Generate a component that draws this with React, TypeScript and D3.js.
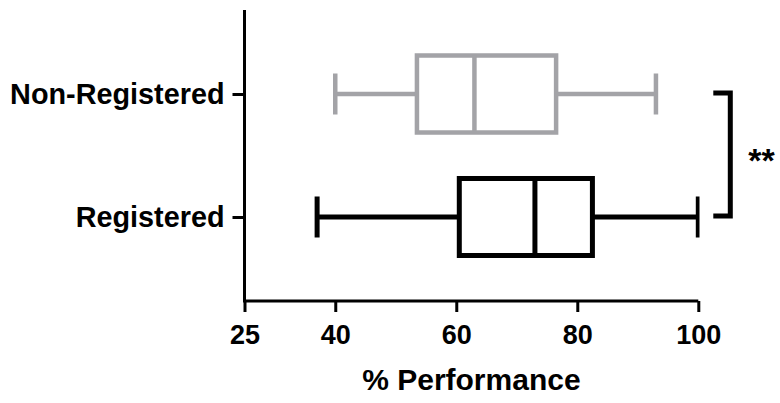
import { useEffect, useRef } from 'react';
import * as d3 from 'd3';

// groups, top to bottom
const groups = ['Non-Registered', 'Registered'];
const colors = ['#a3a3a7', '#000000'];
const lowWhisker = [40, 37];
const q1 = [53.5, 60.5];
const median = [63, 73];
const q3 = [76.5, 82.5];
const highWhisker = [93, 100];
const strokes = [4.5, 5];

const xTicks = [25, 40, 60, 80, 100];
const xTitle = '% Performance';
const sigLabel = '**';

const W = 780;
const H = 403;

export default function App() {
  const svgRef = useRef<SVGSVGElement>(null);

  useEffect(() => {
    if (!svgRef.current) return;
    const svg = d3.select(svgRef.current);
    svg.selectAll('*').remove();

    const font = '"Liberation Sans", Arial, sans-serif';
    const left = 244.5;
    const right = 698.3;
    const top = 10;
    const bottom = 301;

    const x = d3.scaleLinear().domain([25, 100]).range([left, right]);
    const y = d3.scalePoint<string>().domain(groups).range([top, bottom]).padding(0.683);
    const boxH = 77;
    const capH = 41;

    // clip so the last whisker cap is cut at 100 like the original
    svg.append('defs').append('clipPath').attr('id', 'plotclip')
      .append('rect')
      .attr('x', left).attr('y', 0)
      .attr('width', right - left + 1.2).attr('height', H);

    const plot = svg.append('g').attr('clip-path', 'url(#plotclip)');

    groups.forEach((g, i) => {
      const cy = y(g)!;
      const c = colors[i];
      const sw = strokes[i];
      const gg = plot.append('g')
        .attr('stroke', c)
        .attr('stroke-width', sw)
        .attr('fill', 'none');

      // whiskers
      gg.append('line')
        .attr('x1', x(lowWhisker[i])).attr('x2', x(q1[i]))
        .attr('y1', cy).attr('y2', cy);
      gg.append('line')
        .attr('x1', x(q3[i])).attr('x2', x(highWhisker[i]))
        .attr('y1', cy).attr('y2', cy);
      [lowWhisker[i], highWhisker[i]].forEach(v => {
        gg.append('line')
          .attr('x1', x(v)).attr('x2', x(v))
          .attr('y1', cy - capH / 2).attr('y2', cy + capH / 2);
      });

      // box
      gg.append('rect')
        .attr('x', x(q1[i]))
        .attr('y', cy - boxH / 2)
        .attr('width', x(q3[i]) - x(q1[i]))
        .attr('height', boxH)
        .attr('fill', '#fff');
      gg.append('line')
        .attr('x1', x(median[i])).attr('x2', x(median[i]))
        .attr('y1', cy - boxH / 2).attr('y2', cy + boxH / 2);
    });

    // x axis
    const xAxis = svg.append('g')
      .attr('transform', `translate(0,${bottom})`)
      .call(d3.axisBottom(x).tickValues(xTicks).tickSize(11).tickPadding(13).tickFormat(d3.format('d')));
    xAxis.select('.domain').attr('stroke', '#000').attr('stroke-width', 3)
      .attr('d', `M${left},0H${right}`);
    xAxis.selectAll('.tick line').attr('stroke', '#000').attr('stroke-width', 3);
    xAxis.selectAll('.tick text')
      .attr('fill', '#000')
      .attr('font-family', font)
      .attr('font-weight', 'bold')
      .attr('font-size', 27);

    // y axis
    const yAxis = svg.append('g')
      .attr('transform', `translate(${left},0)`)
      .call(d3.axisLeft(y).tickSize(12).tickPadding(8));
    yAxis.select('.domain').attr('stroke', '#000').attr('stroke-width', 3)
      .attr('d', `M0,${top}V${bottom + 1.5}`);
    yAxis.selectAll('.tick line').attr('stroke', '#000').attr('stroke-width', 3);
    yAxis.selectAll('.tick text')
      .attr('fill', '#000')
      .attr('font-family', font)
      .attr('font-weight', 'bold')
      .attr('font-size', 28.8);

    // axis title
    svg.append('text')
      .attr('x', (left + right) / 2)
      .attr('y', 390)
      .attr('text-anchor', 'middle')
      .attr('font-family', font)
      .attr('font-weight', 'bold')
      .attr('font-size', 30)
      .attr('fill', '#000')
      .text(xTitle);

    // significance bracket
    const bx = x(100) + 32;
    const y1 = y(groups[0])! - 1;
    const y2 = y(groups[1])! - 1;
    svg.append('path')
      .attr('d', `M${bx - 17},${y1}H${bx}V${y2}H${bx - 17}`)
      .attr('fill', 'none')
      .attr('stroke', '#000')
      .attr('stroke-width', 5);
    svg.append('text')
      .attr('x', bx + 18)
      .attr('y', (y1 + y2) / 2 + 17)
      .attr('font-family', font)
      .attr('font-weight', 'bold')
      .attr('font-size', 34)
      .attr('fill', '#000')
      .text(sigLabel);
  }, []);

  return (
    <svg ref={svgRef} width={W} height={H} style={{ position: 'absolute', left: 0, top: 0 }} />
  );
}
